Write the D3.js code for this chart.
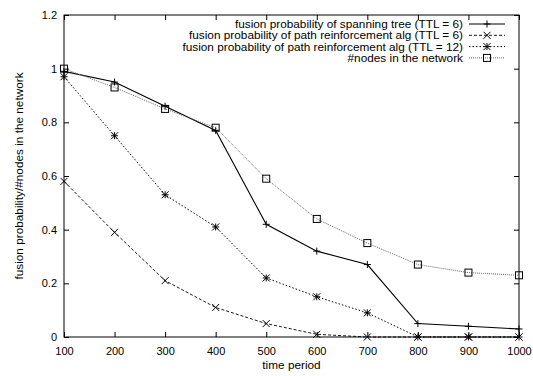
<!DOCTYPE html>
<html>
<head>
<meta charset="utf-8">
<script src="https://cdn.jsdelivr.net/npm/d3@7"></script>
<style>
html, body { margin: 0; padding: 0; background: white; overflow: hidden; }
svg { display: block; }
text { font-family: "Liberation Sans", Arial, sans-serif; font-size: 11.8px; fill: #000; }
</style>
</head>
<body>
<div id="plot"></div>
<script>
const w = 533;
const h = 376;
const margin = {top: 15, right: 14, bottom: 39, left: 64};
const innerWidth = w - margin.left - margin.right;
const innerHeight = h - margin.top - margin.bottom;

// data
const periods = [100, 200, 300, 400, 500, 600, 700, 800, 900, 1000];
const spanningTree = [0.99, 0.95, 0.86, 0.77, 0.42, 0.32, 0.27, 0.05, 0.04, 0.03];
const pathTTL6 = [0.58, 0.39, 0.21, 0.11, 0.05, 0.01, 0, 0, 0, 0];
const pathTTL12 = [0.97, 0.75, 0.53, 0.41, 0.22, 0.15, 0.09, 0, 0, 0];
const nodesInNetwork = [1.0, 0.93, 0.85, 0.78, 0.59, 0.44, 0.35, 0.27, 0.24, 0.23];
const yTicks = [0, 0.2, 0.4, 0.6, 0.8, 1, 1.2];
const seriesNames = [
  "fusion probability of spanning tree (TTL = 6)",
  "fusion probability of path reinforcement alg (TTL = 6)",
  "fusion probability of path reinforcement alg (TTL = 12)",
  "#nodes in the network"
];

const series = [
  {name: seriesNames[0], values: spanningTree, marker: "plus", dash: null, color: "#000", width: 1.1},
  {name: seriesNames[1], values: pathTTL6, marker: "cross", dash: "3,2", color: "#000", width: 0.9},
  {name: seriesNames[2], values: pathTTL12, marker: "star", dash: "1.5,2", color: "#000", width: 1},
  {name: seriesNames[3], values: nodesInNetwork, marker: "square", dash: "1,1", color: "#666", width: 1}
];

const svg = d3.select("div#plot")
  .append("svg")
  .attr("width", w)
  .attr("height", h);

svg.append("rect")
  .attr("width", w)
  .attr("height", h)
  .attr("fill", "white");

const g = svg.append("g")
  .attr("transform", `translate(${margin.left}, ${margin.top})`);

const xScale = d3.scaleLinear()
  .domain([100, 1000])
  .range([0, innerWidth]);

const yScale = d3.scaleLinear()
  .domain([0, 1.2])
  .range([innerHeight, 0]);

// axes, gnuplot style: ticks inside, mirrored
const tk = 5;
const xAxis = g.append("g")
  .attr("transform", `translate(0, ${innerHeight})`)
  .call(d3.axisBottom(xScale).tickValues(periods).tickSize(-tk).tickPadding(10).tickFormat(d3.format("d")));
const xTop = g.append("g")
  .call(d3.axisTop(xScale).tickValues(periods).tickSize(-tk).tickFormat(""));
const yAxis = g.append("g")
  .call(d3.axisLeft(yScale).tickValues(yTicks).tickSize(-tk).tickPadding(7).tickFormat(d => d));
const yRight = g.append("g")
  .attr("transform", `translate(${innerWidth}, 0)`)
  .call(d3.axisRight(yScale).tickValues(yTicks).tickSize(-tk).tickFormat(""));

[xAxis, xTop, yAxis, yRight].forEach(a => {
  a.select(".domain").remove();
  a.selectAll("line").attr("stroke", "#000").attr("stroke-width", 1);
  a.selectAll("text").style("font-family", "Liberation Sans, Arial, sans-serif").style("font-size", "11px");
});

g.append("rect")
  .attr("width", innerWidth)
  .attr("height", innerHeight)
  .attr("fill", "none")
  .attr("stroke", "#000")
  .attr("stroke-width", 1);

// axis labels
svg.append("text")
  .attr("x", margin.left + innerWidth / 2)
  .attr("y", 369)
  .attr("text-anchor", "middle")
  .text("time period");

svg.append("text")
  .attr("transform", `translate(23, ${margin.top + innerHeight / 2}) rotate(-90)`)
  .attr("text-anchor", "middle")
  .text("fusion probability/#nodes in the network");

function drawMarker(sel, type, x, y) {
  const s = 3.5;
  if (type === "plus" || type === "star") {
    sel.append("line").attr("x1", x - s).attr("x2", x + s).attr("y1", y).attr("y2", y);
    sel.append("line").attr("x1", x).attr("x2", x).attr("y1", y - s).attr("y2", y + s);
  }
  if (type === "cross" || type === "star") {
    sel.append("line").attr("x1", x - s).attr("x2", x + s).attr("y1", y - s).attr("y2", y + s);
    sel.append("line").attr("x1", x - s).attr("x2", x + s).attr("y1", y + s).attr("y2", y - s);
  }
  if (type === "square") {
    sel.append("rect").attr("x", x - s).attr("y", y - s).attr("width", 2 * s).attr("height", 2 * s)
      .attr("fill", "none");
  }
}

const line = d3.line()
  .x((d, i) => xScale(periods[i]))
  .y(d => yScale(d));

series.forEach(s => {
  g.append("path")
    .datum(s.values)
    .attr("d", line)
    .attr("fill", "none")
    .attr("stroke", s.color)
    .attr("stroke-width", s.width)
    .attr("stroke-dasharray", s.dash);
  const mg = g.append("g").attr("stroke", "#000").attr("stroke-width", 1);
  s.values.forEach((v, i) => drawMarker(mg, s.marker, xScale(periods[i]), yScale(v)));
});

// legend
const legend = svg.append("g");
series.forEach((s, i) => {
  const ly = 24 + i * 11.3;
  legend.append("text")
    .attr("x", 463)
    .attr("y", ly)
    .attr("dy", "0.35em")
    .attr("text-anchor", "end")
    .text(s.name);
  legend.append("line")
    .attr("x1", 469).attr("x2", 505)
    .attr("y1", ly).attr("y2", ly)
    .attr("stroke", s.color)
    .attr("stroke-width", s.width)
    .attr("stroke-dasharray", s.dash);
  const mg = legend.append("g").attr("stroke", "#000").attr("stroke-width", 1);
  drawMarker(mg, s.marker, 487, ly);
});
</script>
</body>
</html>
